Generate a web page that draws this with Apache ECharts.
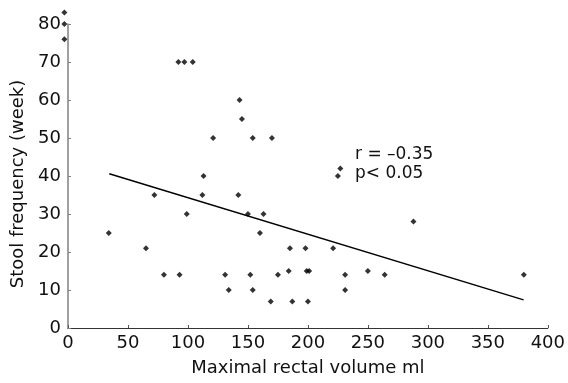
<!DOCTYPE html>
<html>
<head>
<meta charset="utf-8">
<script src="https://cdn.jsdelivr.net/npm/echarts@6/dist/echarts.min.js"></script>
<style>
html,body{margin:0;padding:0;background:#fff;}
#chart{width:568px;height:383px;}
</style>
</head>
<body>
<div id="chart"></div>
<script>
// Data
var volumeMl = [-3, -3, -3, 34, 65, 72, 80, 93, 92, 97, 104, 99, 112, 113, 121, 131, 134, 142, 143, 145, 150, 152, 154, 154, 160, 163, 170, 169, 175, 184, 185, 187, 198, 199, 201, 200, 221, 225, 227, 231, 231, 250, 264, 288, 380];
var stoolPerWeek = [83, 80, 76, 25, 21, 35, 14, 14, 70, 70, 70, 30, 35, 40, 50, 14, 10, 35, 60, 55, 30, 14, 50, 10, 25, 30, 50, 7, 14, 15, 21, 7, 21, 15, 15, 7, 21, 40, 42, 14, 10, 15, 14, 28, 14];
var fitX = [34.4, 379.8];
var fitY = [40.6, 7.4];
var xTicks = [0, 50, 100, 150, 200, 250, 300, 350, 400];
var yTicks = [0, 10, 20, 30, 40, 50, 60, 70, 80];
var statLines = ['r = \u20130.35', 'p< 0.05'];

var FONT = 'DejaVu Sans';
var points = volumeMl.map(function (v, i) { return [v, stoolPerWeek[i]]; });
var fit = fitX.map(function (v, i) { return [v, fitY[i]]; });

var chart = echarts.init(document.getElementById('chart'), null, {renderer: 'canvas'});
chart.setOption({
  animation: false,
  backgroundColor: '#ffffff',
  grid: {left: 68, right: 15, top: 24, bottom: 55, containLabel: false},
  xAxis: {
    type: 'value',
    min: xTicks[0], max: xTicks[xTicks.length - 1], interval: 50,
    name: 'Maximal rectal volume ml',
    nameLocation: 'middle', nameGap: 31,
    nameTextStyle: {fontFamily: FONT, fontSize: 18, color: '#111'},
    axisLine: {show: true, lineStyle: {color: '#333', width: 1}},
    axisTick: {show: true, inside: true, length: 3, lineStyle: {color: '#555'}},
    axisLabel: {fontFamily: FONT, fontSize: 18, color: '#111', margin: 6},
    splitLine: {show: false}
  },
  yAxis: {
    type: 'value',
    min: yTicks[0], max: yTicks[yTicks.length - 1], interval: 10,
    name: 'Stool frequency (week)',
    nameLocation: 'middle', nameGap: 40, nameRotate: 90,
    nameTextStyle: {fontFamily: FONT, fontSize: 18, color: '#111', padding: [0, 16, 0, 0]},
    axisLine: {show: true, lineStyle: {color: '#808080', width: 1.5}},
    axisTick: {show: true, inside: true, length: 3, lineStyle: {color: '#808080'}},
    axisLabel: {fontFamily: FONT, fontSize: 18, color: '#111', margin: 7},
    splitLine: {show: false}
  },
  graphic: [{
    type: 'text',
    left: 355, top: 145,
    style: {text: statLines.join('\n'), font: '17px "DejaVu Sans"', fill: '#111', lineHeight: 19}
  }],
  series: [
    {
      type: 'scatter',
      data: points,
      symbol: 'diamond',
      symbolSize: 6,
      clip: false,
      itemStyle: {color: '#000'}
    },
    {
      type: 'line',
      data: fit,
      symbol: 'none',
      lineStyle: {color: '#000', width: 1.5}
    }
  ]
});
</script>
</body>
</html>
